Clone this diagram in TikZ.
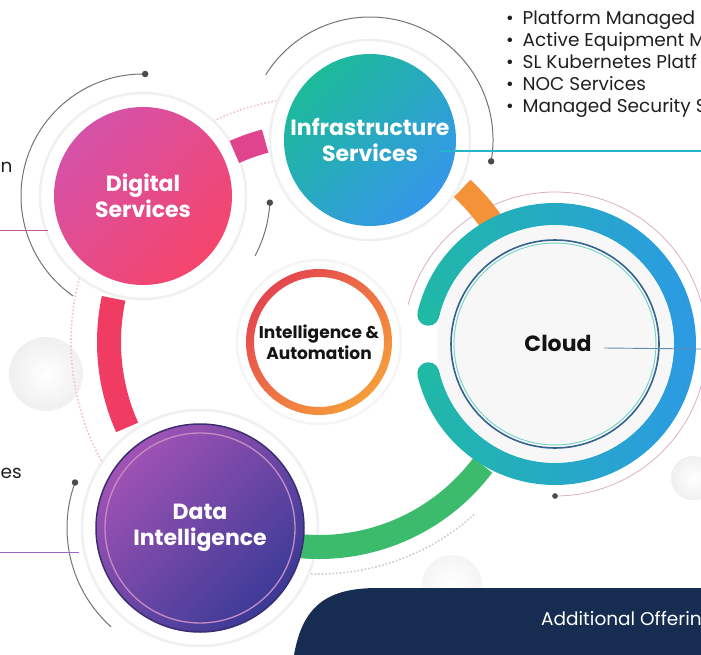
\documentclass[tikz,border=0pt]{standalone}
\usepackage{fontspec}
\setmainfont{Poppins}
\usetikzlibrary{calc,positioning}
\definecolor{dsPinkA}{HTML}{D552A9}
\definecolor{dsPinkB}{HTML}{F5456C}
\definecolor{isTealA}{HTML}{1CBA9A}
\definecolor{isBlueB}{HTML}{3597EA}
\definecolor{diPurpA}{HTML}{A153B5}
\definecolor{diPurpB}{HTML}{3A3A96}
\definecolor{diEdge}{HTML}{3A2D70}
\definecolor{iaRed}{HTML}{E4464F}
\definecolor{iaOrange}{HTML}{F69C3A}
\definecolor{clTeal}{HTML}{1FB9A5}
\definecolor{clBlue}{HTML}{2C9AE4}
\definecolor{clRing}{HTML}{34628F}
\definecolor{bandPink}{HTML}{E0448F}
\definecolor{bandRed}{HTML}{F03C62}
\definecolor{bandGreen}{HTML}{3DBB6C}
\definecolor{bandOrange}{HTML}{F39236}
\definecolor{navy}{HTML}{162C50}
\definecolor{dsLine}{HTML}{C25A92}
\definecolor{isLine}{HTML}{22B5CC}
\definecolor{clLine}{HTML}{5F8FB0}
\definecolor{diLine}{HTML}{9A66C8}
\tikzset{
  halo/.style     = {circle, fill=white, draw=black!6, line width=2.5pt, inner sep=0pt},
  disc/.style     = {circle, inner sep=0pt, text=white, align=center,
                     font=\fontsize{22}{26}\selectfont\bfseries},
  band/.style     = {line width=24pt},
  orbit/.style    = {black!55, line width=1pt},
  knob/.style     = {circle, fill=black!70, inner sep=2.3pt},
  leader/.style   = {line width=0.9pt},
  listitem/.style = {anchor=base west, font=\fontsize{18.5}{22}\selectfont, text=black!88},
  dots/.style     = {bandPink!35, line width=1.6pt, dotted},
}
\begin{document}
\begin{tikzpicture}[x=1pt,y=1pt]
  \useasboundingbox (0,0) rectangle (701,-655);
  \clip (0,0) rectangle (701,-655);
  % centres
  \coordinate (dsC) at (143,-196);
  \coordinate (isC) at (370,-140);
  \coordinate (iaC) at (319,-342);
  \coordinate (clC) at (555,-344);
  \coordinate (diC) at (200,-528);
  % soft spheres
  \shade[inner color=white, outer color=black!6] (46,-374) circle (37);
  \shade[inner color=white, outer color=black!6] (693,-478) circle (22);
  \shade[inner color=white, outer color=black!4] (452,-585) circle (30);
  % orbits
  \draw[orbit] ($(dsC)+(89:122)$) arc[start angle=89, end angle=235, radius=122];
  \node[knob] (dsKnobA) at ($(dsC)+(89:122)$) {};
  \draw[orbit] ($(dsC)+(-3:127)$) arc[start angle=-3, end angle=-28, radius=127];
  \node[knob] (dsKnobB) at ($(dsC)+(-3:127)$) {};
  \draw[orbit] ($(isC)+(-10:123)$) arc[start angle=-10, end angle=148, radius=123];
  \node[knob] (isKnob) at ($(isC)+(-10:123)$) {};
  \draw[orbit] ($(diC)+(160:133)$) arc[start angle=160, end angle=228, radius=133];
  \node[knob] (diKnob) at ($(diC)+(160:133)$) {};
  \draw[black!25!bandPink!40, line width=0.8pt] ($(clC)+(-90:152)$) arc[start angle=-90, end angle=165, radius=152];
  \node[knob, inner sep=2pt] (clKnob) at ($(clC)+(-90:152)$) {};
  % dotted trails
  \draw[dots] ($(iaC)+(100:245)$) arc[start angle=100, end angle=122, radius=245];
  \draw[dots] ($(iaC)+(165:248)$) arc[start angle=165, end angle=210, radius=248];
  \draw[dots, black!20] ($(iaC)+(268:232)$) arc[start angle=268, end angle=312, radius=232];
  % halos
  \node[halo, minimum size=206pt] (dsHalo) at (dsC) {};
  \node[halo, minimum size=200pt] (isHalo) at (isC) {};
  \node[halo, minimum size=236pt] (diHalo) at (diC) {};
  \node[halo, minimum size=164pt, draw=black!4] (iaHalo) at (iaC) {};
  % ring bands
  \draw[band, bandPink] ($(iaC)+(105:208)$) arc[start angle=105, end angle=114, radius=208];
  \draw[band, bandRed] ($(iaC)+(168:210)$) arc[start angle=168, end angle=204, radius=210];
  \draw[band, bandGreen] ($(iaC)+(263:205)$) arc[start angle=263, end angle=323, radius=205];
  \draw[band, bandOrange] ($(iaC)+(34:210)$) arc[start angle=34, end angle=47, radius=210];
  % cloud ring
  \begin{scope}
    \clip (clC) -- ($(clC)+(167:170)$) arc[start angle=167, end angle=-167, radius=170] -- cycle;
    \shade[even odd rule, left color=clTeal, right color=clBlue] (clC) circle (141) (clC) circle (119);
  \end{scope}
  \fill[clTeal] ($(clC)+(167:130)$) circle (11);
  \fill[clTeal] ($(clC)+(193:130)$) circle (11);
  \fill[black!3] (clC) circle (118);
  \draw[clTeal!60, line width=1pt] (clC) circle (101);
  \draw[clRing, line width=1.6pt] (clC) circle (104);
  \node[font=\fontsize{22}{26}\selectfont\bfseries, text=black!92] (cloudTxt) at (558,-343) {Cloud};
  % circles
  \node[disc, minimum size=178pt, top color=dsPinkA, bottom color=dsPinkB, shading angle=45]
    (digital) at (dsC) {Digital\\Services};
  \node[disc, minimum size=172pt, top color=isTealA, bottom color=isBlueB, shading angle=45]
    (infra) at (isC) {Infrastructure\\Services};
  \node[disc, minimum size=208pt, top color=diPurpA, bottom color=diPurpB, shading angle=45,
    draw=diEdge, line width=1.5pt] (data) at (diC) {Data\\Intelligence};
  \draw[white!55!violet, line width=1.3pt] (diC) circle (95);
  \shade[even odd rule, top color=iaRed, bottom color=iaOrange, shading angle=45]
    (iaC) circle (73) (iaC) circle (65);
  \node[circle, fill=white, minimum size=128pt, inner sep=0pt, align=center,
    font=\fontsize{17}{21}\selectfont\bfseries, text=black!92] (intel) at (iaC)
    {Intelligence \&\\Automation};
  % leaders
  \coordinate (dsEnd) at (0,-230);
  \coordinate (isEnd) at (701,-151);
  \coordinate (clEnd) at (701,-349);
  \coordinate (diEnd) at (0,-552);
  \draw[leader, dsLine] (dsEnd) -- ([xshift=-6pt,yshift=-34pt]digital.west);
  \draw[leader, isLine, line width=1.1pt] ([xshift=-16pt,yshift=-11pt]infra.east) -- (isEnd);
  \draw[leader, clLine] ([xshift=9pt,yshift=-5pt]cloudTxt.east) -- (clEnd);
  \draw[leader, diLine] (diEnd) -- ([xshift=-16pt,yshift=-24pt]data.west);
  % side texts
  \node[listitem] (isItemA) at (502.5,-25) {\textbullet\hspace{9pt}Platform Managed};
  \node[listitem] (isItemB) at (502.5,-47) {\textbullet\hspace{9pt}Active Equipment M};
  \node[listitem] (isItemC) at (502.5,-69) {\textbullet\hspace{9pt}SL Kubernetes Platf};
  \node[listitem] (isItemD) at (502.5,-91) {\textbullet\hspace{9pt}NOC Services};
  \node[listitem] (isItemE) at (502.5,-113) {\textbullet\hspace{9pt}Managed Security S};
  \node[listitem, anchor=base west, inner sep=0pt] (dsTail) at (0.5,-173) {n};
  \node[listitem, anchor=base west, inner sep=0pt] (diTail) at (0.5,-478) {es};
  % offerings panel
  \fill[navy] (294,-655) .. controls (303,-603) and (330,-588) .. (378,-588)
    -- (701,-588) -- (701,-655) -- cycle;
  \node[anchor=base west, inner sep=0pt, text=white, font=\fontsize{18.5}{22}\selectfont]
    (offerTxt) at (541,-625) {Additional Offerin};
\end{tikzpicture}
\end{document}
